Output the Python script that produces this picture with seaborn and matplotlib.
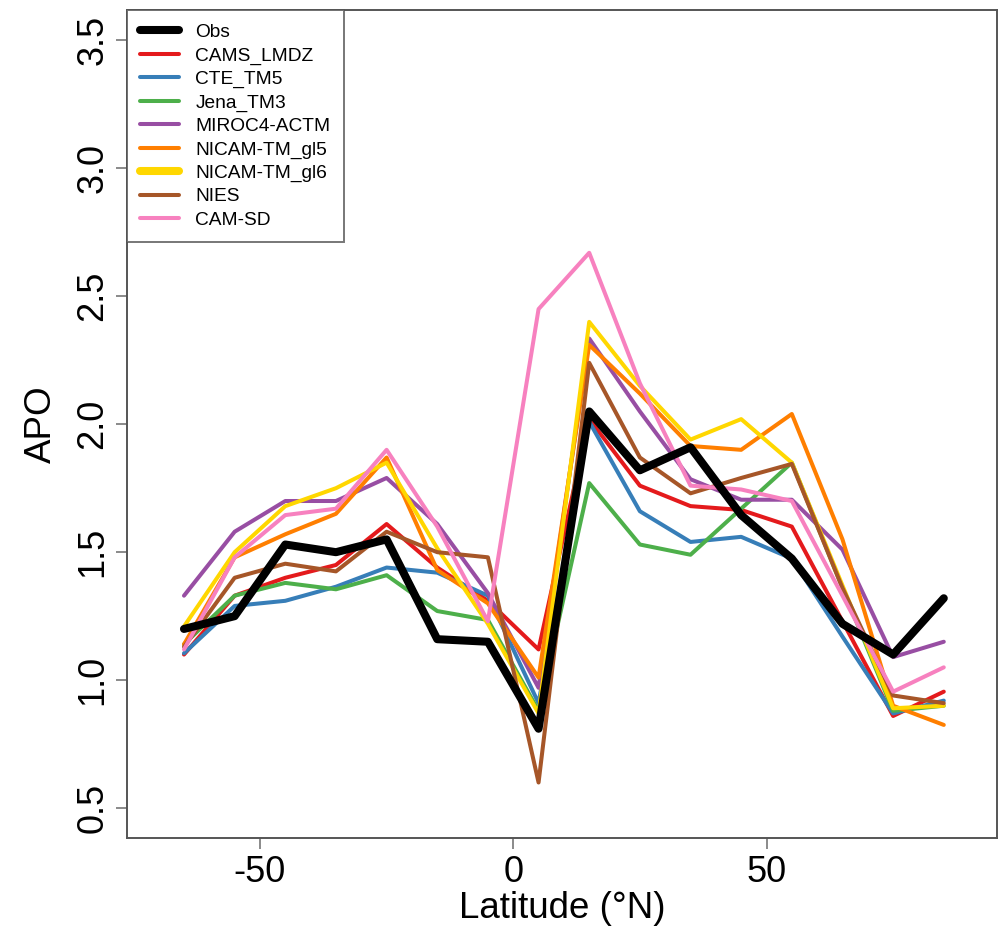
import numpy as np
import pandas as pd
import matplotlib
matplotlib.use("Agg")
import matplotlib.pyplot as plt
import seaborn as sns
from matplotlib.lines import Line2D

sns.set_theme(style="white")
plt.rcParams['font.family'] = ['Liberation Sans', 'DejaVu Sans']
plt.rcParams['text.color'] = 'black'
plt.rcParams['axes.labelcolor'] = 'black'
plt.rcParams['xtick.color'] = 'black'
plt.rcParams['ytick.color'] = 'black'

latitude = [-65, -55, -45, -35, -25, -15, -5, 5, 15, 25, 35, 45, 55, 65, 75, 85]

obs = [1.20, 1.25, 1.53, 1.50, 1.55, 1.16, 1.15, 0.81, 2.05, 1.82, 1.91, 1.645, 1.475, 1.22, 1.10, 1.32]
cams_lmdz = [1.10, 1.33, 1.40, 1.45, 1.61, 1.44, 1.31, 1.12, 2.02, 1.76, 1.68, 1.665, 1.60, 1.23, 0.86, 0.955]
cte_tm5 = [1.105, 1.29, 1.31, 1.365, 1.44, 1.42, 1.33, 0.91, 2.01, 1.66, 1.54, 1.56, 1.475, 1.17, 0.87, 0.92]
jena_tm3 = [1.14, 1.33, 1.38, 1.355, 1.41, 1.27, 1.235, 0.88, 1.77, 1.53, 1.49, 1.67, 1.85, 1.36, 0.88, 0.90]
miroc4_actm = [1.33, 1.58, 1.70, 1.70, 1.79, 1.61, 1.34, 0.97, 2.335, 2.05, 1.785, 1.705, 1.705, 1.51, 1.09, 1.15]
nicam_gl5 = [1.14, 1.48, 1.57, 1.65, 1.87, 1.43, 1.30, 1.01, 2.31, 2.12, 1.915, 1.90, 2.04, 1.55, 0.90, 0.825]
nicam_gl6 = [1.21, 1.50, 1.68, 1.75, 1.85, 1.515, 1.22, 0.87, 2.40, 2.15, 1.94, 2.02, 1.85, 1.37, 0.89, 0.90]
nies = [1.13, 1.40, 1.455, 1.425, 1.58, 1.50, 1.48, 0.60, 2.24, 1.87, 1.73, 1.79, 1.845, 1.36, 0.94, 0.91]
cam_sd = [1.12, 1.48, 1.645, 1.67, 1.90, 1.60, 1.23, 2.45, 2.67, 2.16, 1.76, 1.745, 1.70, 1.33, 0.955, 1.05]

model_names = ["CAMS_LMDZ", "CTE_TM5", "Jena_TM3", "MIROC4-ACTM",
               "NICAM-TM_gl5", "NICAM-TM_gl6", "NIES", "CAM-SD"]
model_values = [cams_lmdz, cte_tm5, jena_tm3, miroc4_actm,
                nicam_gl5, nicam_gl6, nies, cam_sd]
model_colors = ["#E41A1C", "#377EB8", "#4DAF4A", "#984EA3",
                "#FF7F00", "#FFD700", "#A65628", "#F781BF"]

rows = []
for name, vals in zip(model_names, model_values):
    for la, v in zip(latitude, vals):
        rows.append({"lat": la, "APO": v, "model": name})
df_models = pd.DataFrame(rows)
df_obs = pd.DataFrame({"lat": latitude, "APO": obs, "model": "Obs"})

fig = plt.figure(figsize=(10.04, 9.26), dpi=100)
ax = fig.add_axes([0.1265, 0.095, 0.8665, 0.894])

sns.lineplot(data=df_models, x="lat", y="APO", hue="model", hue_order=model_names,
             palette=dict(zip(model_names, model_colors)), linewidth=2.9,
             ax=ax, legend=False, estimator=None, sort=False)
sns.lineplot(data=df_obs, x="lat", y="APO", color="black", linewidth=5.8,
             ax=ax, legend=False, estimator=None, sort=False, zorder=5)

ax.set_xlim(-76.25, 95.5)
ax.set_ylim(0.383, 3.618)
ax.set_xticks([-50, 0, 50])
ax.set_xticklabels(["-50", "0", "50"])
ax.set_yticks([0.5, 1.0, 1.5, 2.0, 2.5, 3.0, 3.5])
ax.set_yticklabels(["0.5", "1.0", "1.5", "2.0", "2.5", "3.0", "3.5"], rotation=90, va="center")

ax.set_xlabel("Latitude (°N)", fontsize=26.5, labelpad=1, color="black")
ax.set_ylabel("APO", fontsize=26.5, labelpad=12, color="black")
ax.tick_params(axis="both", which="both", direction="out", length=8, width=1.2,
               color="#777777", labelcolor="black", labelsize=26, pad=4,
               bottom=True, left=True)
for sp in ax.spines.values():
    sp.set_color("#555555")
    sp.set_linewidth(1.4)

handles = [Line2D([], [], color="black", linewidth=5.8)]
for name, col in zip(model_names, model_colors):
    lw = 5.8 if name == "NICAM-TM_gl6" else 2.9
    handles.append(Line2D([], [], color=col, linewidth=lw))
labels = ["Obs"] + model_names
leg = ax.legend(handles, labels, loc="upper left", bbox_to_anchor=(0, 1),
                borderaxespad=0, fontsize=13.8, frameon=True, fancybox=False,
                handlelength=2.0, handletextpad=0.87, labelspacing=0.31,
                borderpad=0.7)
leg.get_frame().set_edgecolor("#555555")
leg.get_frame().set_linewidth(1.4)
for t in leg.get_texts():
    t.set_color("black")
leg.set_zorder(10)

fig.savefig("out.png", dpi=100)
